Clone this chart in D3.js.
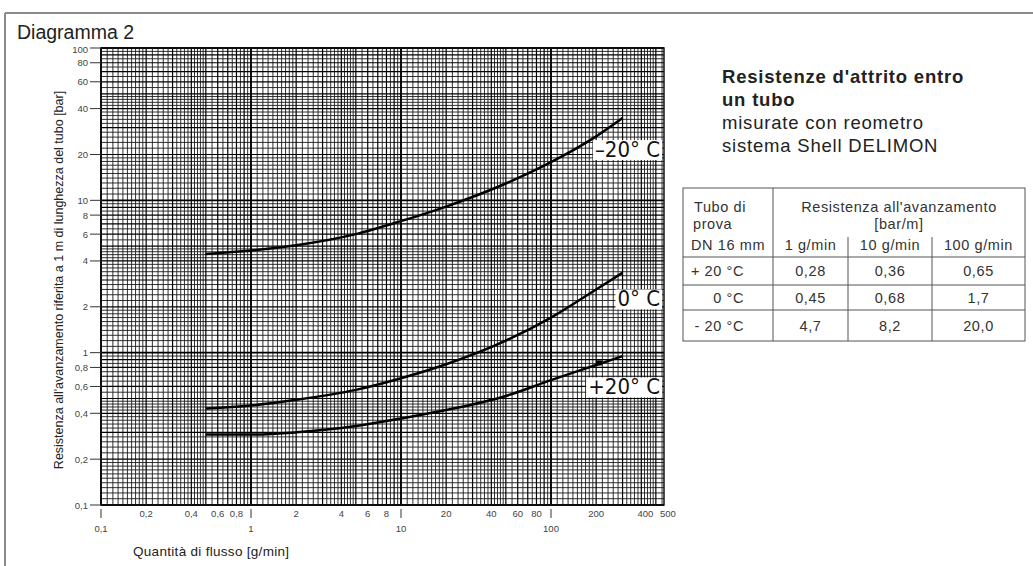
<!DOCTYPE html>
<html>
<head>
<meta charset="utf-8">
<script src="https://cdn.jsdelivr.net/npm/d3@7"></script>
<style>
  body { margin: 0; background: #fff; }
  svg { display: block; font-family: "Liberation Sans", Arial, sans-serif; }
</style>
</head>
<body>
<svg width="1033" height="566"></svg>
<script>
// Data (flow in g/min, resistance in bar/m)
const flow = [0.5, 1, 2, 5, 10, 20, 50, 100, 200, 300];
const resPlus20 = [0.29, 0.29, 0.30, 0.33, 0.37, 0.42, 0.52, 0.66, 0.83, 0.95];
const resZero = [0.43, 0.45, 0.49, 0.57, 0.68, 0.84, 1.2, 1.7, 2.6, 3.35];
const resMinus20 = [4.45, 4.68, 5.07, 6.0, 7.3, 9.1, 12.9, 17.8, 26.3, 34.7];
const curveNames = ["+20° C", "0° C", "\u201320° C"];
const labelAt = [0.6, 2.27, 21.7];      // resistance where each curve label sits
const markerPoint = [209, 0.85];        // small square on the +20 curve

const yTicks = [0.1, 0.2, 0.4, 0.6, 0.8, 1, 2, 4, 6, 8, 10, 20, 40, 60, 80, 100];
const xTicksTop = [0.2, 0.4, 0.6, 0.8, 2, 4, 6, 8, 20, 40, 60, 80, 200, 400, 500];
const xTicksBottom = [0.1, 1, 10, 100];

const tableCols = ["1 g/min", "10 g/min", "100 g/min"];
const tableRows = ["+ 20 °C", "0 °C", "- 20 °C"];
const tableVals = [["0,28", "0,36", "0,65"], ["0,45", "0,68", "1,7"], ["4,7", "8,2", "20,0"]];

const svg = d3.select("svg");
const comma = v => String(v).replace(".", ",");

// outer frame
svg.append("line").attr("x1", 5).attr("x2", 1033).attr("y1", 13).attr("y2", 13)
    .attr("stroke", "#8a8a8a").attr("stroke-width", 2);
svg.append("line").attr("x1", 5).attr("x2", 5).attr("y1", 13).attr("y2", 566)
    .attr("stroke", "#8a8a8a").attr("stroke-width", 2);

svg.append("text").attr("x", 17).attr("y", 39).attr("font-size", 19.5).attr("fill", "#222")
    .text("Diagramma 2");

// scales: log-log graph paper
const pL = 101, pR = 664, pT = 48, pB = 505;
const x = d3.scaleLog().domain([0.1, 100]).range([101, 551]);
const y = d3.scaleLog().domain([0.1, 100]).range([pB, pT]);
const xMax = x.invert(pR);

// grid values per decade
function gridValues(lo, hi) {
    const minor = [], mid = [], major = [];
    for (let e = Math.floor(Math.log10(lo)); e <= Math.ceil(Math.log10(hi)); e++) {
        const d = Math.pow(10, e);
        for (let m = 1.1; m < 2 - 1e-9; m += 0.1) minor.push(m * d);
        for (let m = 2.2; m < 5 - 1e-9; m += 0.2) if (Math.abs(m - Math.round(m)) > 1e-6) minor.push(m * d);
        for (let m = 5.5; m < 10 - 1e-9; m += 0.5) if (Math.abs(m - Math.round(m)) > 1e-6) minor.push(m * d);
        for (let m = 2; m <= 9; m++) mid.push(m * d);
        major.push(d);
    }
    const f = v => v >= lo * 0.9999 && v <= hi * 1.0001;
    return { minor: minor.filter(f), mid: mid.filter(f), major: major.filter(f) };
}

const grid = svg.append("g");
const gx = gridValues(0.1, xMax), gy = gridValues(0.1, 100);
[["minor", 0.9, "#1a1a1a"], ["mid", 1.2, "#000"], ["major", 1.9, "#000"]].forEach(([k, w, c]) => {
    grid.selectAll(null).data(gx[k]).enter().append("line")
        .attr("x1", d => x(d)).attr("x2", d => x(d)).attr("y1", pT).attr("y2", pB)
        .attr("stroke", c).attr("stroke-width", w);
    grid.selectAll(null).data(gy[k]).enter().append("line")
        .attr("x1", pL).attr("x2", pR).attr("y1", d => y(d)).attr("y2", d => y(d))
        .attr("stroke", c).attr("stroke-width", w);
});
grid.append("rect").attr("x", pL).attr("y", pT).attr("width", pR - pL).attr("height", pB - pT)
    .attr("fill", "none").attr("stroke", "#111").attr("stroke-width", 1.5);

// y ticks
const yAx = svg.append("g").attr("font-size", 9.5).attr("fill", "#444");
yAx.selectAll(null).data(yTicks).enter().append("line")
    .attr("x1", 90).attr("x2", pL).attr("y1", d => y(d)).attr("y2", d => y(d))
    .attr("stroke", "#333").attr("stroke-width", 1);
yAx.selectAll(null).data(yTicks).enter().append("text")
    .attr("x", 88).attr("y", d => y(d) + (d === 100 ? 5 : 3.5)).attr("text-anchor", "end")
    .text(d => comma(d));

// x ticks
const xAx = svg.append("g").attr("font-size", 9.5).attr("fill", "#444");
xAx.selectAll(null).data(xTicksTop).enter().append("text")
    .attr("x", d => x(d) + (d === 400 ? 4 : d === 500 ? 12 : 0)).attr("y", 517)
    .attr("text-anchor", "middle").text(d => comma(d));
xAx.selectAll(null).data(xTicksBottom).enter().append("line")
    .attr("x1", d => x(d)).attr("x2", d => x(d)).attr("y1", 509).attr("y2", 518)
    .attr("stroke", "#333").attr("stroke-width", 1);
xAx.selectAll(null).data(xTicksBottom).enter().append("text")
    .attr("x", d => x(d)).attr("y", 532).attr("text-anchor", "middle").text(d => comma(d));

// axis titles
svg.append("text").attr("transform", "translate(63,280) rotate(-90)")
    .attr("text-anchor", "middle").attr("font-size", 12.5).attr("fill", "#222")
    .text("Resistenza all'avanzamento riferita a 1 m di lunghezza del tubo [bar]");
svg.append("text").attr("x", 133).attr("y", 556).attr("font-size", 13.5).attr("letter-spacing", 0.3)
    .attr("fill", "#222").text("Quantità di flusso [g/min]");

// curves
const series = [resPlus20, resZero, resMinus20];
const line = d3.line().x(d => x(d[0])).y(d => y(d[1])).curve(d3.curveMonotoneX);
svg.append("g").selectAll("path").data(series).enter().append("path")
    .attr("d", s => line(flow.map((f, i) => [f, s[i]])))
    .attr("fill", "none").attr("stroke", "#000").attr("stroke-width", 2.5);

svg.append("rect").attr("x", x(markerPoint[0]) - 3).attr("y", y(markerPoint[1]) - 3)
    .attr("width", 6).attr("height", 5).attr("fill", "#000");

// curve labels on white boxes
const lab = svg.append("g").selectAll("g").data(curveNames).enter().append("g");
lab.append("text")
    .attr("x", pR - 4).attr("y", (d, i) => y(labelAt[i]) + 8)
    .attr("text-anchor", "end").attr("font-size", 22)
    .attr("font-family", "'Liberation Sans Narrow', 'DejaVu Sans Condensed', sans-serif")
    .attr("fill", "#111").text(d => d)
    .each(function () {
        const b = this.getBBox();
        d3.select(this.parentNode).insert("rect", "text")
            .attr("x", b.x - 2).attr("y", b.y + 3).attr("width", b.width + 4).attr("height", b.height - 5)
            .attr("fill", "#fff");
    });

// right-hand description
const desc = svg.append("g").attr("fill", "#222").attr("font-size", 18.5).attr("letter-spacing", 0.8);
desc.append("text").attr("x", 722).attr("y", 83).attr("font-weight", "bold").text("Resistenze d'attrito entro");
desc.append("text").attr("x", 722).attr("y", 106).attr("font-weight", "bold").text("un tubo");
desc.append("text").attr("x", 722).attr("y", 129).text("misurate con reometro");
desc.append("text").attr("x", 722).attr("y", 152).text("sistema Shell DELIMON");

// table
const colX = [683, 773, 848, 932, 1025];
const rowY = [188, 257, 285, 310, 341];
const tb = svg.append("g").attr("font-size", 14.5).attr("letter-spacing", 0.6).attr("fill", "#333");
tb.append("rect").attr("x", colX[0]).attr("y", rowY[0]).attr("width", colX[4] - colX[0])
    .attr("height", rowY[4] - rowY[0]).attr("fill", "none").attr("stroke", "#555");
tb.append("line").attr("x1", colX[1]).attr("x2", colX[1]).attr("y1", rowY[0]).attr("y2", rowY[4]).attr("stroke", "#555");
[2, 3].forEach(c => tb.append("line").attr("x1", colX[c]).attr("x2", colX[c])
    .attr("y1", 237).attr("y2", rowY[4]).attr("stroke", "#555"));
[1, 2, 3].forEach(r => tb.append("line").attr("x1", colX[0]).attr("x2", colX[4])
    .attr("y1", rowY[r]).attr("y2", rowY[r]).attr("stroke", "#555"));

tb.append("text").attr("x", 694).attr("y", 212).text("Tubo di");
tb.append("text").attr("x", 693).attr("y", 229).text("prova");
tb.append("text").attr("x", 691).attr("y", 250).text("DN 16 mm");
tb.append("text").attr("x", (colX[1] + colX[4]) / 2).attr("y", 212).attr("text-anchor", "middle")
    .text("Resistenza all'avanzamento");
tb.append("text").attr("x", (colX[1] + colX[4]) / 2).attr("y", 229).attr("text-anchor", "middle")
    .text("[bar/m]");
tb.selectAll(null).data(tableCols).enter().append("text")
    .attr("x", (d, i) => (colX[i + 1] + colX[i + 2]) / 2).attr("y", 250).attr("text-anchor", "middle")
    .text(d => d);
const rowBase = [276, 303, 331];
tb.selectAll(null).data(tableRows).enter().append("text")
    .attr("x", 744).attr("y", (d, i) => rowBase[i]).attr("text-anchor", "end").text(d => d);
tableVals.forEach((row, r) => {
    tb.selectAll(null).data(row).enter().append("text")
        .attr("x", (d, i) => (colX[i + 1] + colX[i + 2]) / 2).attr("y", rowBase[r])
        .attr("text-anchor", "middle").text(d => d);
});
</script>
</body>
</html>
